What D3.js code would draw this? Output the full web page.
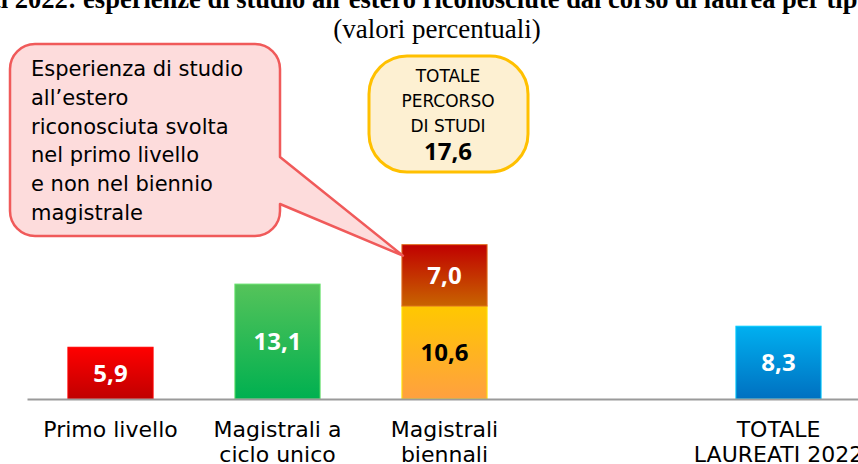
<!DOCTYPE html>
<html>
<head>
<meta charset="utf-8">
<script src="https://d3js.org/d3.v7.min.js"></script>
<style>
  body { margin: 0; background: #fff; }
  svg { display: block; }
  .sans { font-family: "DejaVu Sans", "Open Sans", sans-serif; }
  .num { font-family: "Open Sans", "DejaVu Sans", sans-serif; font-weight: bold; }
  .serif { font-family: "Liberation Serif", "Times New Roman", serif; }
</style>
</head>
<body>
<script>
// data
var categories = ["Primo livello", "Magistrali a ciclo unico", "Magistrali biennali", "gap", "TOTALE LAUREATI 2022"];
var tickLabels = [["Primo livello"], ["Magistrali a", "ciclo unico"], ["Magistrali", "biennali"], [], ["TOTALE", "LAUREATI 2022"]];
var baseValues = [5.9, 13.1, 10.6, null, 8.3];     // esperienza riconosciuta nel corso
var upperValues = [null, null, 7.0, null, null];   // svolta nel primo livello (solo biennali)
var totalePercorso = 17.6;
var baseColors = [["#ff0000", "#c00000"], ["#55c35a", "#00b050"], ["#ffc800", "#ffa040"], null, ["#00b0f0", "#0070c0"]];
var upperColors = [null, null, ["#c00000", "#c86400"], null, null];
var baseLabelColor = ["#fff", "#fff", "#000", null, "#fff"];

var W = 858, H = 464;
var axisY = 399;

var svg = d3.select("body").append("svg")
  .attr("width", W)
  .attr("height", H);

var defs = svg.append("defs");
function grad(id, c) {
  var g = defs.append("linearGradient").attr("id", id)
    .attr("x1", 0).attr("y1", 0).attr("x2", 0).attr("y2", 1);
  g.append("stop").attr("offset", "0%").attr("stop-color", c[0]);
  g.append("stop").attr("offset", "100%").attr("stop-color", c[1]);
}

var x = d3.scaleBand()
  .domain(categories)
  .range([27, 862])
  .paddingInner(0.49)
  .paddingOuter(0.245);

var y = d3.scaleLinear()
  .domain([0, 20])
  .range([axisY, axisY - 175.4]);

// title (top cut off, as in the reference)
var title = svg.append("text")
  .attr("class", "serif")
  .attr("y", 7.5)
  .style("font-size", "26.5px")
  .style("font-weight", "bold")
  .attr("fill", "#000");
var pre = title.append("tspan").text("Laureati ");
var preLen = pre.node().getComputedTextLength();
title.attr("x", 8 - preLen);
title.append("tspan").text("2022: esperienze di studio all\u2019estero riconosciute dal corso di laurea per tipo di corso");

svg.append("text")
  .attr("class", "serif")
  .attr("x", 437)
  .attr("y", 38)
  .attr("text-anchor", "middle")
  .style("font-size", "27px")
  .text("(valori percentuali)");

// bars
categories.forEach(function (c, i) {
  if (baseColors[i]) grad("gb" + i, baseColors[i]);
  if (upperColors[i]) grad("gu" + i, upperColors[i]);
});

var bars = svg.append("g");
bars.selectAll("rect.base")
  .data(categories.map(function (c, i) { return { c: c, i: i, v: baseValues[i] }; }).filter(function (d) { return d.v != null; }))
  .enter().append("rect")
  .attr("class", "base")
  .attr("x", function (d) { return x(d.c); })
  .attr("width", x.bandwidth())
  .attr("y", function (d) { return y(d.v); })
  .attr("height", function (d) { return y(0) - y(d.v); })
  .attr("fill", function (d) { return "url(#gb" + d.i + ")"; })
  .attr("stroke", function (d) { return d3.color(baseColors[d.i][0]).brighter(0.4); })
  .attr("stroke-width", 1);

bars.selectAll("rect.upper")
  .data(categories.map(function (c, i) { return { c: c, i: i, b: baseValues[i], v: upperValues[i] }; }).filter(function (d) { return d.v != null; }))
  .enter().append("rect")
  .attr("class", "upper")
  .attr("x", function (d) { return x(d.c); })
  .attr("width", x.bandwidth())
  .attr("y", function (d) { return y(d.b + d.v); })
  .attr("height", function (d) { return y(d.b) - y(d.b + d.v); })
  .attr("fill", function (d) { return "url(#gu" + d.i + ")"; })
  .attr("stroke", "#e07020")
  .attr("stroke-width", 1);

var fmt = function (v) { return d3.format(".1f")(v).replace(".", ","); };

var labels = svg.append("g").attr("class", "num")
  .style("font-size", "24px");
categories.forEach(function (c, i) {
  if (baseValues[i] == null) return;
  labels.append("text")
    .attr("x", x(c) + x.bandwidth() / 2)
    .attr("y", (y(0) + y(baseValues[i])) / 2)
    .attr("dy", "0.36em")
    .attr("text-anchor", "middle")
    .attr("fill", baseLabelColor[i])
    .text(fmt(baseValues[i]));
  if (upperValues[i] != null) {
    labels.append("text")
      .attr("x", x(c) + x.bandwidth() / 2)
      .attr("y", (y(baseValues[i]) + y(baseValues[i] + upperValues[i])) / 2)
      .attr("dy", "0.36em")
      .attr("text-anchor", "middle")
      .attr("fill", "#fff")
      .text(fmt(upperValues[i]));
  }
});

// axis
var xAxis = svg.append("g")
  .attr("transform", "translate(0," + axisY + ")")
  .call(d3.axisBottom(x).tickSize(0).tickSizeOuter(0).tickFormat(""));
xAxis.select(".domain").attr("stroke", "#9a9a9a").attr("stroke-width", 2);
xAxis.selectAll(".tick text").remove();
xAxis.selectAll(".tick").each(function (c, i) {
  var t = d3.select(this).append("text")
    .attr("class", "sans")
    .attr("fill", "#000")
    .attr("text-anchor", "middle")
    .style("font-size", "22px");
  tickLabels[i].forEach(function (line, k) {
    t.append("tspan").attr("x", 0).attr("y", 38 + k * 25).text(line);
  });
});

// callout: esperienza svolta nel primo livello
var tipX = x("Magistrali biennali") + 1;
var tipY = y(baseValues[2] + upperValues[2]) + 11;
var bx0 = 10, bx1 = 280, by0 = 44, by1 = 236, r = 25;
var callout = d3.path();
callout.moveTo(bx0 + r, by0);
callout.lineTo(bx1 - r, by0);
callout.arcTo(bx1, by0, bx1, by0 + r, r);
callout.lineTo(bx1, 157);
callout.lineTo(tipX, tipY);
callout.lineTo(bx1, 204);
callout.lineTo(bx1, by1 - r);
callout.arcTo(bx1, by1, bx1 - r, by1, r);
callout.lineTo(bx0 + r, by1);
callout.arcTo(bx0, by1, bx0, by1 - r, r);
callout.lineTo(bx0, by0 + r);
callout.arcTo(bx0, by0, bx0 + r, by0, r);
callout.closePath();
svg.append("path")
  .attr("d", callout.toString())
  .attr("fill", "#fddcdc")
  .attr("stroke", "#f05a5a")
  .attr("stroke-width", 2.5)
  .attr("stroke-linejoin", "round");

var calloutLines = ["Esperienza di studio", "all\u2019estero", "riconosciuta svolta", "nel primo livello", "e non nel biennio", "magistrale"];
var ct = svg.append("text").attr("class", "sans").style("font-size", "21px").attr("fill", "#000");
calloutLines.forEach(function (l, k) {
  ct.append("tspan").attr("x", 31).attr("y", 76 + k * 28.8).text(l);
});

// totale percorso di studi
svg.append("rect")
  .attr("x", 369).attr("y", 56)
  .attr("width", 159).attr("height", 116)
  .attr("rx", 38).attr("ry", 38)
  .attr("fill", "#fdf0d2")
  .attr("stroke", "#ffc000")
  .attr("stroke-width", 3);
var tt = svg.append("text").attr("class", "sans").attr("text-anchor", "middle").attr("fill", "#000");
["TOTALE", "PERCORSO", "DI STUDI"].forEach(function (l, k) {
  tt.append("tspan").attr("x", 448).attr("y", 82 + k * 25).style("font-size", "17px").text(l);
});
tt.append("tspan").attr("x", 448).attr("y", 160)
  .attr("class", "num")
  .style("font-size", "24px").style("font-weight", "bold")
  .text(fmt(totalePercorso));
</script>
</body>
</html>
